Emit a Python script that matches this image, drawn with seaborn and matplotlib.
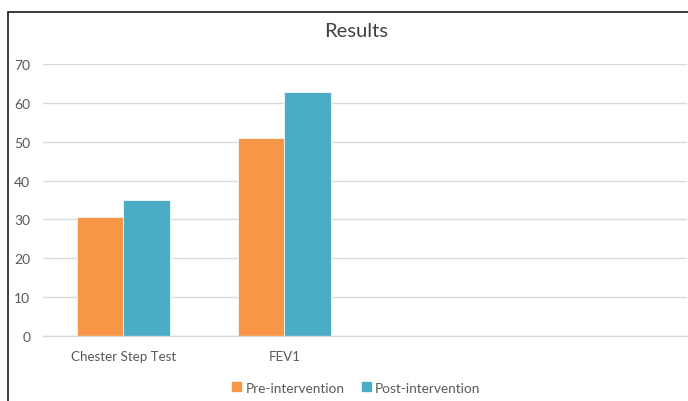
import matplotlib
matplotlib.use("Agg")
import matplotlib.pyplot as plt
import seaborn as sns
import pandas as pd
from matplotlib.patches import Rectangle

categories = ["Chester Step Test", "FEV1"]
pre_values = [30.6, 51.0]
post_values = [35.1, 62.7]
series_names = ["Pre-intervention", "Post-intervention"]
colors = ["#F79646", "#4BACC6"]
y_ticks = [0, 10, 20, 30, 40, 50, 60, 70]

df = pd.DataFrame({
    "Category": categories * 2,
    "Value": pre_values + post_values,
    "Series": [series_names[0]] * len(categories) + [series_names[1]] * len(categories),
})

sns.set_theme(style="white")
plt.rcParams["font.family"] = ["Lato", "DejaVu Sans"]

fig = plt.figure(figsize=(6.88, 4.02), dpi=100)
ax = fig.add_axes([0.062, 0.161, 0.937, 0.678])

sns.barplot(data=df, x="Category", y="Value", hue="Series", order=categories,
            hue_order=series_names, palette=colors, saturation=1, width=0.58, ax=ax,
            edgecolor="#FFFFFF", linewidth=0.5, legend=False)

# two empty category slots to the right
ax.set_xlim(-0.5, 3.5)
ax.set_ylim(0, 70)
ax.set_yticks(y_ticks)
ax.set_yticklabels([str(t) for t in y_ticks])
ax.yaxis.grid(True, color="#D9D9D9", linewidth=1.0)
ax.set_axisbelow(True)
for side in ["top", "right", "left"]:
    ax.spines[side].set_visible(False)
ax.spines["bottom"].set_color("#D9D9D9")
ax.spines["bottom"].set_linewidth(1.0)
ax.set_xlabel("")
ax.set_ylabel("")
ax.tick_params(axis="y", length=0, pad=9, labelsize=10, labelcolor="#595959")
ax.tick_params(axis="x", length=0, pad=10, labelsize=9.6, labelcolor="#595959")

fig.text(0.518, 0.922, "Results", ha="center", va="center", fontsize=14.5, color="#404040")

# legend
handles = [Rectangle((0, 0), 1, 1, color=c) for c in colors]
fig.legend(handles, series_names, loc="center", bbox_to_anchor=(0.518, 0.033),
           ncol=2, frameon=False, fontsize=9.8, handlelength=0.65, handleheight=0.65,
           handletextpad=0.3, columnspacing=1.3, labelcolor="#595959")

# chart-area border (extends past the right and bottom edges)
fig.patches.append(Rectangle((8 / 688, -0.1), 1.2, 1 - 13 / 402 + 0.1,
                             transform=fig.transFigure, fill=False,
                             edgecolor="#1a1a1a", linewidth=1.2))

fig.savefig("out.png", dpi=100)
